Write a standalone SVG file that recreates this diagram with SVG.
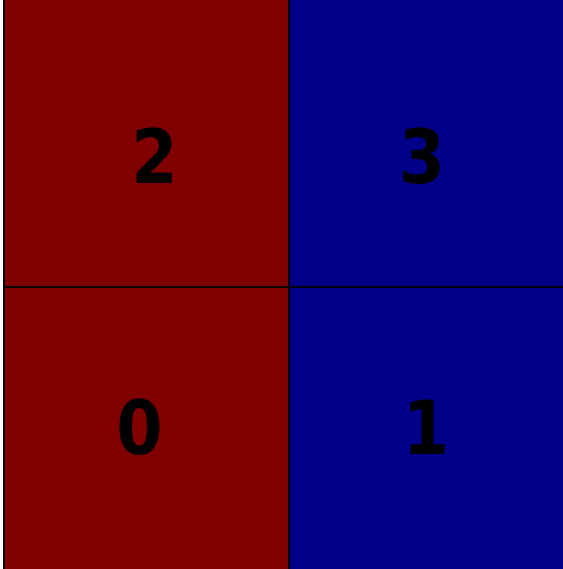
<svg xmlns="http://www.w3.org/2000/svg" width="563" height="569" viewBox="0 0 563 569">
<style>
.cell{stroke:#000;stroke-width:2}
.red{fill:#800000}
.blue{fill:#000088}
.lbl{font-family:"DejaVu Sans Condensed","DejaVu Sans",sans-serif;font-stretch:condensed;font-weight:bold;font-size:74px;fill:#000;text-anchor:middle}
</style>
<rect width="563" height="569" fill="#ffffff"/>
<g id="cell2"><rect class="cell red" x="4" y="-10" width="285" height="297"/><text class="lbl" x="154.5" y="183">2</text></g>
<g id="cell3"><rect class="cell blue" x="289" y="-10" width="285" height="297"/><text class="lbl" x="422" y="183">3</text></g>
<g id="cell0"><rect class="cell red" x="4" y="287" width="285" height="295"/><text class="lbl" x="139.5" y="454">0</text></g>
<g id="cell1"><rect class="cell blue" x="289" y="287" width="285" height="295"/><text class="lbl" x="426" y="454">1</text></g>
<g id="connectors"></g>
</svg>
